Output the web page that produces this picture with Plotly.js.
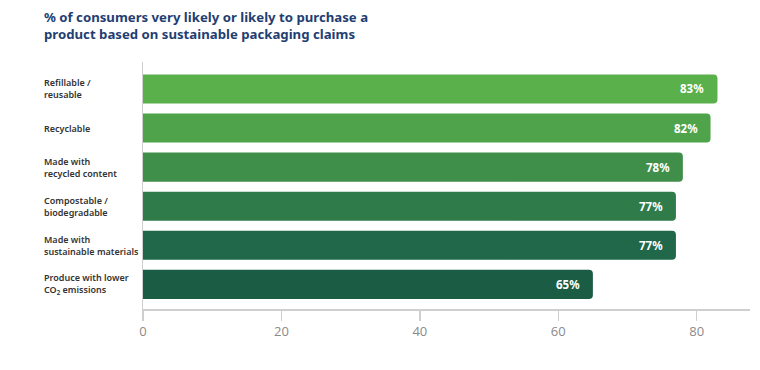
<!DOCTYPE html>
<html>
<head>
<meta charset="utf-8">
<script src="https://cdn.plot.ly/plotly-3.0.1.min.js"></script>
<style>html,body{margin:0;padding:0;background:#fff;}#chart{width:760px;height:370px;}</style>
</head>
<body>
<div id="chart"></div>
<script>
const categories = [
  "Refillable /<br>reusable",
  "Recyclable",
  "Made with<br>recycled content",
  "Compostable /<br>biodegradable",
  "Made with<br>sustainable materials",
  "Produce with lower<br>CO<sub>2</sub> emissions"
];
const values = [83, 82, 78, 77, 77, 65];
const barColors = ["#5AB04B", "#4FA44B", "#3F8F4B", "#2F7B4A", "#21684A", "#1B5C45"];
const tickVals = [0, 20, 40, 60, 80];
const titleText = "% of consumers very likely or likely to purchase a<br>product based on sustainable packaging claims";

const trace = {
  type: "bar",
  orientation: "h",
  x: values,
  y: categories,
  marker: { color: barColors, cornerradius: 4, line: { width: 0 } },
  hoverinfo: "skip",
  textposition: "none"
};

const annotations = [{
  xref: "paper", yref: "paper", x: -101 / 607, y: 1 + 56 / 247,
  xanchor: "left", yanchor: "top", align: "left",
  text: titleText, showarrow: false,
  font: { family: "Noto Sans, sans-serif", size: 13.2, color: "#1F3E72", weight: 700 }
}];
categories.forEach((c, i) => {
  annotations.push({
    xref: "paper", yref: "y", x: -0.1665, y: c,
    xanchor: "left", yanchor: "middle", align: "left",
    text: c, showarrow: false,
    font: { family: "Noto Sans, sans-serif", size: 9, color: "#333333", weight: 600 }
  });
  annotations.push({
    xref: "x", yref: "y", x: values[i], y: c,
    xanchor: "right", yanchor: "middle", xshift: -11,
    text: values[i] + "%", showarrow: false,
    font: { family: "Noto Sans, sans-serif", size: 11.5, color: "#ffffff", weight: 700 }
  });
});

const layout = {
  width: 760, height: 370,
  margin: { l: 143, r: 10, t: 62, b: 61 },
  paper_bgcolor: "#ffffff", plot_bgcolor: "#ffffff",
  showlegend: false,
  bargap: 0.256,
  xaxis: {
    range: [0, 87.7],
    tickvals: tickVals,
    ticktext: tickVals.map(String),
    showgrid: false, zeroline: false,
    showline: true, linecolor: "#cfcfcf", linewidth: 1.5,
    ticks: "outside", ticklen: 10, tickcolor: "#cfcfcf", tickwidth: 1.5,
    tickfont: { family: "Open Sans, sans-serif", size: 13, color: "#8a8a8a" },
    fixedrange: true
  },
  yaxis: {
    type: "category",
    categoryorder: "array", categoryarray: categories,
    range: [5.63, -0.69],
    showticklabels: false, ticks: "",
    showgrid: false, zeroline: false,
    showline: true, linecolor: "#cfcfcf", linewidth: 1.5,
    fixedrange: true
  },
  annotations: annotations
};

Plotly.newPlot("chart", [trace], layout, { displayModeBar: false, staticPlot: true });
</script>
</body>
</html>
